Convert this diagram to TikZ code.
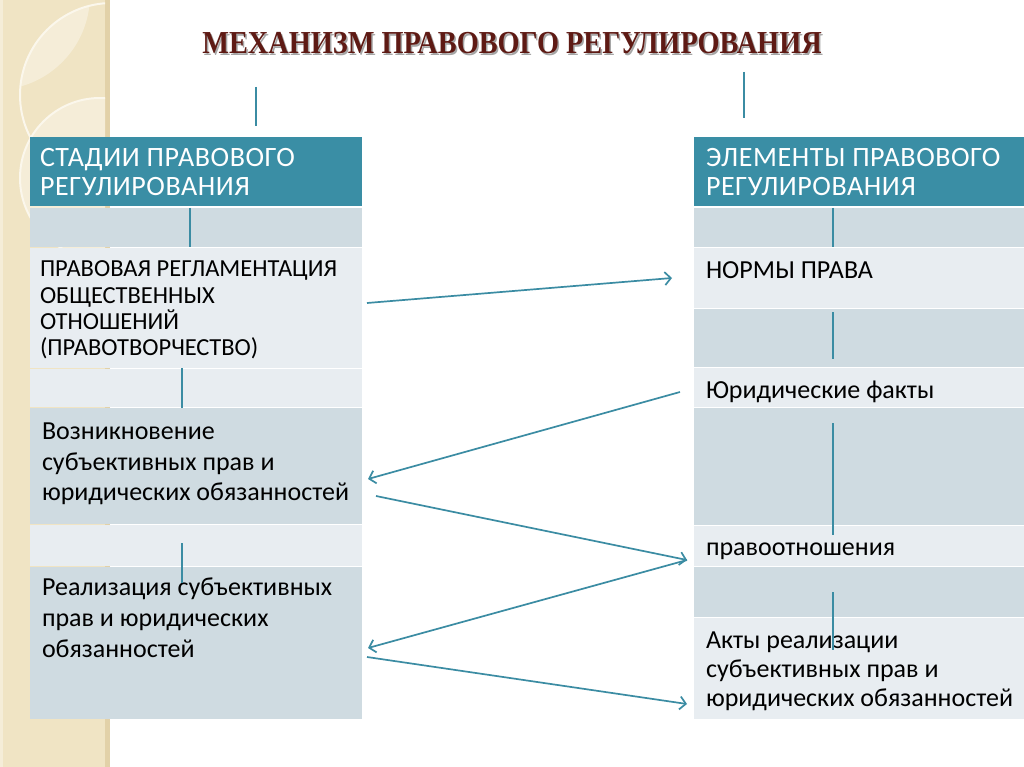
\documentclass[tikz,border=0pt]{standalone}
\usepackage{graphicx}
\usepackage{fontspec}
\setmainfont{Carlito}
\newfontfamily\titlefont{Liberation Serif}
\newfontfamily\headfont[LetterSpace=2]{Carlito}
\usetikzlibrary{arrows.meta,calc}
\definecolor{teal1}{HTML}{3A8EA5}
\definecolor{rowdark}{HTML}{CFDBE1}
\definecolor{rowlight}{HTML}{E8EDF1}
\definecolor{linec}{HTML}{3B8CA3}
\definecolor{titlec}{HTML}{5E1A14}
\definecolor{beige}{HTML}{F0E4C4}
\definecolor{beigel}{HTML}{F5EDD8}
\definecolor{beiged}{HTML}{E2D1A8}
\definecolor{cream}{HTML}{FBF7EC}
\begin{document}
\begin{tikzpicture}[x=1pt,y=-1pt,
  box/.style={inner sep=0pt,outer sep=0pt,anchor=north west,draw=none},
  hdr/.style={box,fill=teal1},
  dk/.style={box,fill=rowdark},
  lt/.style={box,fill=rowlight},
  txt/.style={inner sep=0pt,outer sep=0pt,anchor=north west,align=left,text=black},
  htxt/.style={txt,text=white,font=\headfont\fontsize{28}{28.5}\selectfont},
  vline/.style={draw=linec,line width=1.6pt},
  arr/.style={draw=linec,line width=1.7pt,-{Straight Barb[length=6pt,width=13pt]}},
]
\useasboundingbox (0,0) rectangle (1024,767);
\fill[white] (0,0) rectangle (1024,767);
% decorative strip
\fill[beige] (0,0) rectangle (110,767);
\fill[beiged] (105,0) rectangle (110,767);
\fill[beigel] (0,0) rectangle (3,767);
\begin{scope}
  \clip (0,0) rectangle (105,767);
  \begin{scope}
    \clip (112,95) circle (92pt);
    \fill[beigel] (-5,-5) circle (95pt);
  \end{scope}
  \draw[cream,line width=2pt] (112,95) circle (92pt);
  \filldraw[fill=beigel,draw=cream,line width=2pt] (100,178) circle (80pt);
\end{scope}

% title
\node[inner sep=0pt,anchor=base,text=black!35] (Ts) at (513.5,55.5)
  {\titlefont\bfseries\fontsize{32}{36}\selectfont\scalebox{0.885}[1]{МЕХАНИЗМ ПРАВОВОГО РЕГУЛИРОВАНИЯ}};
\node[inner sep=0pt,anchor=base,text=titlec] (T) at (512,54)
  {\titlefont\bfseries\fontsize{32}{36}\selectfont\scalebox{0.885}[1]{МЕХАНИЗМ ПРАВОВОГО РЕГУЛИРОВАНИЯ}};

% left table
\node[hdr,minimum width=332pt,minimum height=69.5pt] (LH) at (30,137) {};
\node[dk,minimum width=332pt,minimum height=38.5pt] (L1) at (30,208) {};
\node[lt,minimum width=332pt,minimum height=119.5pt] (L2) at (30,248) {};
\node[lt,minimum width=332pt,minimum height=37.5pt] (L3) at (30,369) {};
\node[dk,minimum width=332pt,minimum height=115.5pt] (L4) at (30,408) {};
\node[lt,minimum width=332pt,minimum height=40.5pt] (L5) at (30,525) {};
\node[dk,minimum width=332pt,minimum height=152pt] (L6) at (30,567) {};

% right table
\node[hdr,minimum width=330pt,minimum height=69.5pt] (RH) at (694,137) {};
\node[dk,minimum width=330pt,minimum height=38.5pt] (R1) at (694,208) {};
\node[lt,minimum width=330pt,minimum height=59.5pt] (R2) at (694,248) {};
\node[dk,minimum width=330pt,minimum height=57.5pt] (R3) at (694,309) {};
\node[lt,minimum width=330pt,minimum height=38.5pt] (R4) at (694,368) {};
\node[dk,minimum width=330pt,minimum height=116.5pt] (R5) at (694,408) {};
\node[lt,minimum width=330pt,minimum height=39.5pt] (R6) at (694,526) {};
\node[dk,minimum width=330pt,minimum height=49.5pt] (R7) at (694,567) {};
\node[lt,minimum width=330pt,minimum height=101pt] (R8) at (694,618) {};

% texts
\node[htxt] (LHt) at (40,147) {\strut СТАДИИ ПРАВОВОГО\\РЕГУЛИРОВАНИЯ};
\node[txt,font=\fontsize{24.5}{26.3}\selectfont] (L2t) at (40,258.3)
  {\strut ПРАВОВАЯ РЕГЛАМЕНТАЦИЯ\\ОБЩЕСТВЕННЫХ\\ОТНОШЕНИЙ\\(ПРАВОТВОРЧЕСТВО)};
\node[txt,font=\fontsize{26}{30.5}\selectfont] (L4t) at (42,418.6)
  {\strut Возникновение\\субъективных прав и\\юридических обязанностей};
\node[txt,font=\fontsize{26}{31}\selectfont] (L6t) at (42,573.3)
  {\strut Реализация субъективных\\прав и юридических\\обязанностей};
\node[htxt] (RHt) at (706,147) {\strut ЭЛЕМЕНТЫ ПРАВОВОГО\\РЕГУЛИРОВАНИЯ};
\node[txt,font=\fontsize{26}{30}\selectfont] (R2t) at (706,257) {\strut НОРМЫ ПРАВА};
\node[txt,font=\fontsize{26}{30}\selectfont] (R4t) at (706,377) {\strut Юридические факты};
\node[txt,font=\fontsize{26}{30}\selectfont] (R6t) at (706,534) {\strut правоотношения};
\node[txt,font=\fontsize{26}{29}\selectfont] (R8t) at (706,628)
  {\strut Акты реализации\\субъективных прав и\\юридических обязанностей};

% vertical lines
\draw[vline] ($(LH.north)+(60,-50)$) -- ($(LH.north)+(60,-11)$);
\draw[vline] ($(RH.north)+(-115,-65)$) -- ($(RH.north)+(-115,-19)$);
\draw[vline] ($(L1.north)+(-6,0)$) -- ($(L1.south)+(-6,0)$);
\draw[vline] ($(L3.north)+(-14,-1)$) -- ($(L3.south)+(-14,1)$);
\draw[vline] ($(L5.north)+(-14,18)$) -- ($(L6.north)+(-14,16)$);
\draw[vline] ($(R1.north)+(-26,0)$) -- ($(R1.south)+(-26,0)$);
\draw[vline] ($(R3.north)+(-26,3)$) -- ($(R3.south)+(-26,-8)$);
\draw[vline] ($(R5.north)+(-26,15)$) -- ($(R6.north)+(-26,9)$);
\draw[vline] ($(R7.north)+(-26,25)$) -- ($(R8.north)+(-26,32)$);

% arrows
\draw[arr] ($(L2.east)+(5,-4.75)$) -- ($(R2.west)+(-22,0.25)$);
\draw[arr] ($(R4.west)+(-14,4.75)$) -- ($(L4.east)+(6,13.25)$);
\draw[arr] ($(L4.east)+(14,30.25)$) -- ($(R6.west)+(-7,14.25)$);
\draw[arr] ($(R6.west)+(-7,14.25)$) -- ($(L6.east)+(6,5)$);
\draw[arr] ($(L6.east)+(5,14)$) -- ($(R8.west)+(-7,35.5)$);
\end{tikzpicture}
\end{document}
